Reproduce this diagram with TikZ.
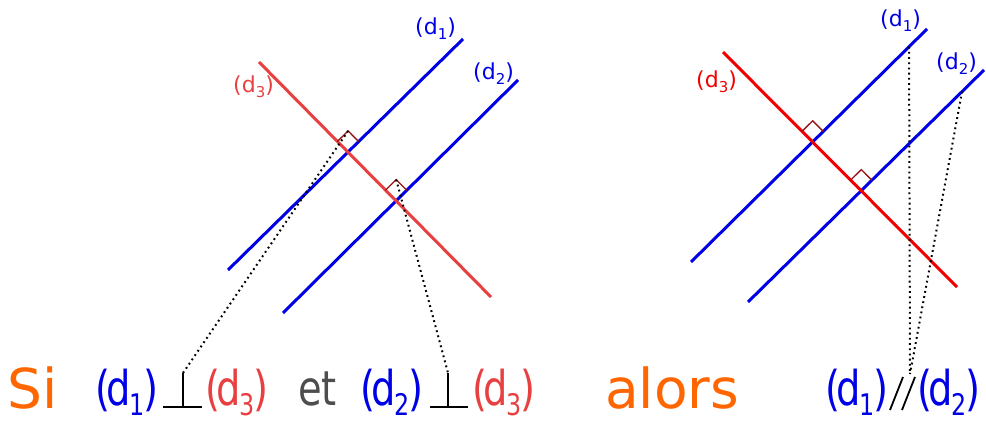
\documentclass[tikz,border=0pt]{standalone}
\usepackage{fontspec}
\setmainfont{DejaVu Sans}
\newfontfamily\midfont{DejaVu Sans}[FakeStretch=0.8]
\usetikzlibrary{calc}
\definecolor{dblue}{RGB}{0,0,230}
\definecolor{dredl}{RGB}{232,64,64}
\definecolor{dred}{RGB}{240,0,0}
\definecolor{angred}{RGB}{150,20,20}
\definecolor{orng}{RGB}{255,102,0}
\definecolor{etgray}{RGB}{77,77,77}
\newcommand\dl[1]{(d\raisebox{-.21em}{\scalebox{.68}{#1}})}
\newcommand\dm[1]{(\kern-.07em d\kern-.03em\raisebox{-.21em}{\scalebox{.62}{#1}}\kern-.02em)}

\begin{document}
\begin{tikzpicture}[x=1pt,y=-1pt,
 droite/.style={line width=3pt},
 angmark/.style={angred,line width=1.3pt},
 dotline/.style={line width=2pt,dash pattern=on 1.8pt off 3.4pt},
 symb/.style={line width=1.8pt},
 small/.style={font=\fontsize{22}{26}\selectfont,inner sep=0pt,anchor=base west},
 mid/.style={font=\midfont\fontsize{48}{56}\selectfont,inner sep=0pt,anchor=base west},
 big/.style={font=\fontsize{55}{64}\selectfont,inner sep=0pt,anchor=base west}]
\useasboundingbox (0,0) rectangle (986,422);
\coordinate (A1) at (228,270); \coordinate (B1) at (463,39);
\coordinate (A2) at (283,313); \coordinate (B2) at (518,80);
\coordinate (A3) at (259,62);  \coordinate (B3) at (491,297);
\coordinate (C1) at (691,262); \coordinate (D1) at (927,29);
\coordinate (C2) at (748,302); \coordinate (D2) at (984,70);
\coordinate (C3) at (723,52);  \coordinate (D3) at (957,287);
\draw[droite,dblue] (A1)--(B1);
\draw[droite,dblue] (A2)--(B2);
\draw[droite,dredl] (A3)--(B3);
\draw[droite,dblue] (C1)--(D1);
\draw[droite,dblue] (C2)--(D2);
\draw[droite,dred] (C3)--(D3);
\coordinate (PL1) at (intersection of A1--B1 and A3--B3);
\coordinate (PL2) at (intersection of A2--B2 and A3--B3);
\coordinate (PR1) at (intersection of C1--D1 and C3--D3);
\coordinate (PR2) at (intersection of C2--D2 and C3--D3);
\foreach \p/\u/\v in {PL1/B1/A3,PL2/B2/A3,PR1/D1/C3,PR2/D2/C3}{
 \coordinate (u) at ($(\p)!15pt!(\u)$);
 \coordinate (v) at ($(\p)!15pt!(\v)$);
 \coordinate (M\p) at ($(u)+(v)-(\p)$);
 \draw[angmark] (u)--(M\p)--(v);}
\node[small,dblue] (labUnL) at (415,35) {\dl{1}};
\node[small,dblue] (labDeuxL) at (473,80) {\dl{2}};
\node[small,dredl] (labTroisL) at (233,93) {\dl{3}};
\node[small,dblue] (labUnR) at (880,27) {\dl{1}};
\node[small,dblue] (labDeuxR) at (936,70) {\dl{2}};
\node[small,dred] (labTroisR) at (696,88) {\dl{3}};
\node[big,orng] (siTxt) at (7,408) {Si};
\node[mid,dblue] (dUnA) at (95,405) {\dm{1}};
\coordinate (perpA) at (183,373);
\draw[symb] (perpA)--(183,407) (163,407)--(202,407);
\node[mid,dredl] (dTroisA) at (205,405) {\dm{3}};
\node[mid,etgray] (etTxt) at (298,405) {et};
\node[mid,dblue] (dDeuxB) at (360,405) {\dm{2}};
\coordinate (perpB) at (448,373);
\draw[symb] (perpB)--(448,407) (430,407)--(468,407);
\node[mid,dredl] (dTroisB) at (472,405) {\dm{3}};
\node[big,orng] (alorsTxt) at (605,408) {alors};
\node[mid,dblue] (dUnC) at (825,405) {\dm{1}};
\draw[symb] (890,410)--(903,377) (902,410)--(915,377);
\node[mid,dblue] (dDeuxC) at (917,405) {\dm{2}};
\coordinate (parTop) at (910,374);
\draw[dotline] (MPL1)--(perpA);
\draw[dotline] (MPL2)--(perpB);
\draw[dotline] ($(C1)!.924!(D1)$)--(parTop);
\draw[dotline] ($(C2)!.907!(D2)$)--(parTop);
\end{tikzpicture}
\end{document}
